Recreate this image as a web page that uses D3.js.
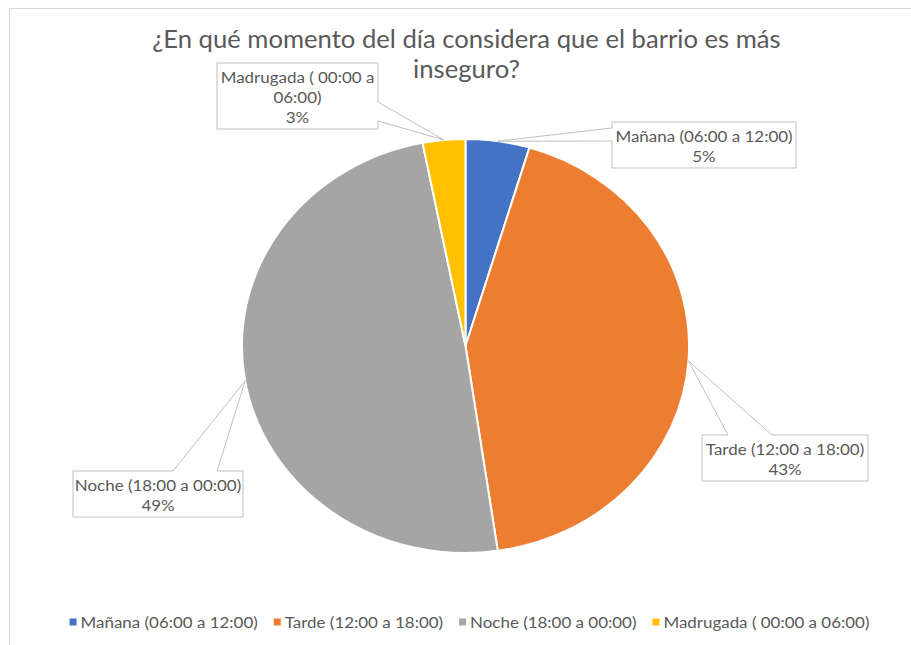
<!DOCTYPE html>
<html><head><meta charset="utf-8">
<script src="https://cdn.jsdelivr.net/npm/d3@7"></script>
<style>body{margin:0;background:#fff}svg{display:block}text{font-family:Lato,"Open Sans",sans-serif;fill:#595959}</style>
</head><body><svg id="c" width="911" height="645"></svg>
<script>
// ---- data ----
const categories = ["Mañana (06:00 a 12:00)", "Tarde (12:00 a 18:00)", "Noche (18:00 a 00:00)", "Madrugada ( 00:00 a 06:00)"];
const values = [3, 28, 32, 2];
const colors = ["#4472C4", "#ED7D31", "#A5A5A5", "#FFC000"];
const labelLines = [["Mañana (06:00 a 12:00)"], ["Tarde (12:00 a 18:00)"], ["Noche (18:00 a 00:00)"], ["Madrugada ( 00:00 a", "06:00)"]];
const titleLines = ["¿En qué momento del día considera que el barrio es más", "inseguro?"];

// ---- layout ----
const W = 911, H = 645;
const cx = 465.5, cy = 346, R = 207, sx = 1.08, tsx = 1.06;
const boxes = [
  {x: 612, y: 122, w: 184, side: "left", b: [128, 141]},
  {x: 702, y: 435, w: 166, side: "top", b: [728, 772]},
  {x: 73, y: 471, w: 170, side: "top", b: [173, 217]},
  {x: 217, y: 63, w: 161, side: "right", b: [102, 121]}
];

const svg = d3.select("#c");
svg.append("rect").attr("width", W).attr("height", H).attr("fill", "#fff");
svg.append("rect").attr("x", 9.5).attr("y", 8.5).attr("width", W).attr("height", H)
  .attr("fill", "none").attr("stroke", "#d9d9d9").attr("stroke-width", 1);

function place(sel, fx, fy) {
  sel.attr("transform", (d, i) => `translate(${fx(d, i)},${fy(d, i)}) scale(${tsx},1)`);
}

// title
const tt = svg.append("g").selectAll("text").data(titleLines).join("text")
  .attr("text-anchor", "middle").attr("font-size", 24.2).text(d => d);
place(tt, () => 466.5, (d, i) => 48 + i * 30);

// pie
const total = d3.sum(values);
const pie = d3.pie().sort(null).value(d => d)(values);
const arc = d3.arc().innerRadius(0).outerRadius(R);
const g = svg.append("g").attr("transform", `translate(${cx},${cy}) scale(${sx},1)`);
g.selectAll("path").data(pie).join("path")
  .attr("d", arc).attr("fill", (d, i) => colors[i])
  .attr("stroke", "#fff").attr("stroke-width", 2).attr("vector-effect", "non-scaling-stroke");

// callouts
const fmt = d3.format(".0%");
const callouts = svg.append("g");
pie.forEach((d, i) => {
  const a = (d.startAngle + d.endAngle) / 2;
  const tip = [cx + sx * R * Math.sin(a), cy - R * Math.cos(a)];
  const lines = labelLines[i].concat([fmt(values[i] / total)]);
  const bx = boxes[i];
  const h = lines.length * 20 + 6;
  const x0 = bx.x, y0 = bx.y, x1 = bx.x + bx.w, y1 = bx.y + h;
  let p;
  if (bx.side === "top") {
    p = [[x0, y0], [bx.b[0], y0], tip, [bx.b[1], y0], [x1, y0], [x1, y1], [x0, y1]];
  } else if (bx.side === "left") {
    p = [[x0, y0], [x1, y0], [x1, y1], [x0, y1], [x0, bx.b[1]], tip, [x0, bx.b[0]]];
  } else {
    p = [[x0, y0], [x1, y0], [x1, bx.b[0]], tip, [x1, bx.b[1]], [x1, y1], [x0, y1]];
  }
  callouts.append("path").attr("d", d3.line()(p) + "Z")
    .attr("fill", "#fff").attr("stroke", "#bfbfbf").attr("stroke-width", 1);
  const lt = callouts.append("g").selectAll("text").data(lines).join("text")
    .attr("dy", "0.35em").attr("text-anchor", "middle").attr("font-size", 16).text(t => t);
  place(lt, () => (x0 + x1) / 2, (t, j) => y0 + 14 + j * 20);
});

// legend
const leg = svg.append("g");
const items = leg.selectAll("g").data(categories).join("g");
items.append("rect").attr("width", 7).attr("height", 7).attr("y", -3.5).attr("fill", (d, i) => colors[i]);
const ltx = items.append("text").attr("dy", "0.35em").attr("font-size", 16).text(d => d);
place(ltx, () => 11, () => 0);
let xpos = 0; const gap = 16;
items.each(function () {
  const w = 11 + tsx * this.querySelector("text").getComputedTextLength();
  d3.select(this).attr("transform", `translate(${xpos},0)`);
  xpos += w + gap;
});
xpos -= gap;
leg.attr("transform", `translate(${469.5 - xpos / 2},622)`);
</script></body></html>
